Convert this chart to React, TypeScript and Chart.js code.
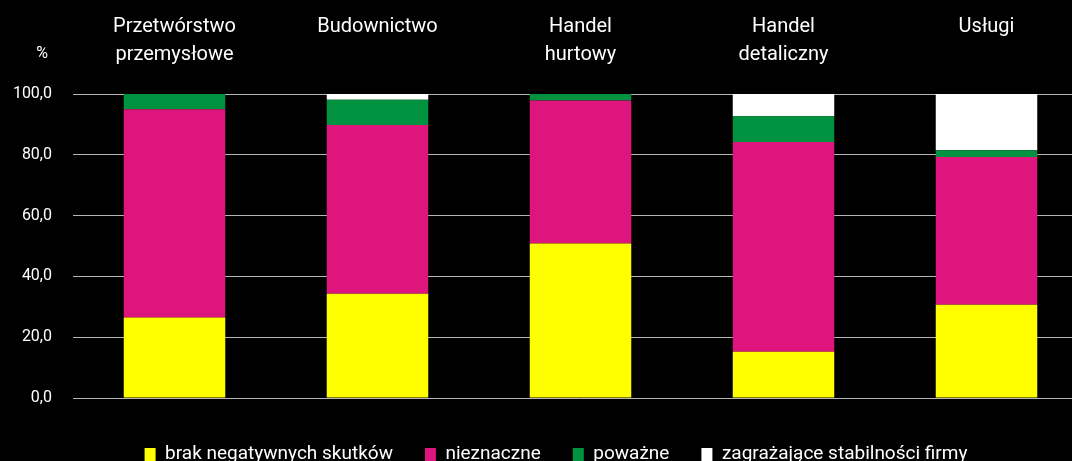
import React, { useEffect, useRef } from 'react';
import { Chart, registerables } from 'chart.js';

Chart.register(...registerables);

const categories: string[][] = [
  ['Przetwórstwo', 'przemysłowe'],
  ['Budownictwo'],
  ['Handel', 'hurtowy'],
  ['Handel', 'detaliczny'],
  ['Usługi'],
];
const seriesNames = ['brak negatywnych skutków', 'nieznaczne', 'poważne', 'zagrażające stabilności firmy'];
const brakNegatywnych = [26.5, 34.3, 50.8, 15.2, 30.7];
const nieznaczne = [68.5, 55.5, 47.1, 69.0, 48.6];
const powazne = [5.0, 8.3, 2.1, 8.5, 2.2];
const zagrazajace = [0, 1.9, 0, 7.3, 18.5];
const yTicks = [0, 20, 40, 60, 80, 100];
const yUnit = '%';

const FONT = 'Roboto';

export default function App() {
  const ref = useRef<HTMLCanvasElement>(null);
  useEffect(() => {
    if (!ref.current) return;
    const unitPlugin = {
      id: 'unitLabel',
      afterLayout(chart: any) {
        const lg = chart.legend;
        if (lg) {
          lg.left += 12;
          lg.right += 12;
        }
      },
      afterDraw(chart: any) {
        const { ctx, chartArea } = chart;
        ctx.save();
        ctx.fillStyle = '#ffffff';
        ctx.font = `16px ${FONT}`;
        ctx.textAlign = 'center';
        ctx.textBaseline = 'middle';
        ctx.fillText(yUnit, chartArea.left - 31, chartArea.top - 40);
        ctx.restore();
      },
    };
    const chart = new Chart(ref.current, {
      type: 'bar',
      data: {
        labels: categories,
        datasets: [
          { label: seriesNames[0], data: brakNegatywnych, backgroundColor: '#FFFF00' },
          { label: seriesNames[1], data: nieznaczne, backgroundColor: '#DD157D' },
          { label: seriesNames[2], data: powazne, backgroundColor: '#00923F' },
          { label: seriesNames[3], data: zagrazajace, backgroundColor: '#FFFFFF' },
        ],
      },
      options: {
        responsive: true,
        maintainAspectRatio: false,
        animation: false,
        datasets: { bar: { categoryPercentage: 1, barPercentage: 0.5 } },
        layout: { padding: { top: 5, left: 0, right: 0, bottom: 0 } },
        scales: {
          x: {
            stacked: true,
            position: 'top',
            grid: { display: false },
            border: { display: false },
            ticks: {
              color: '#ffffff',
              font: { family: FONT, size: 20, lineHeight: 1.4 },
              crossAlign: 'far',
              padding: 17,
              maxRotation: 0,
              autoSkip: false,
            },
          },
          xb: {
            type: 'category',
            position: 'bottom',
            grid: { display: false },
            border: { display: false },
            ticks: { display: false },
            afterFit(scale: any) {
              scale.height = 15;
            },
          },
          y: {
            stacked: true,
            min: 0,
            max: 100,
            afterBuildTicks(scale: any) {
              scale.ticks = yTicks.map((v) => ({ value: v }));
            },
            afterFit(scale: any) {
              scale.width = 73;
            },
            grid: { color: '#b5b5b5', lineWidth: 1, drawTicks: false },
            border: { display: false },
            ticks: {
              color: '#ffffff',
              font: { family: FONT, size: 16 },
              padding: 21,
              callback: (v: any) => Number(v).toFixed(1).replace('.', ','),
            },
          },
        },
        plugins: {
          tooltip: { enabled: false },
          legend: {
            position: 'bottom',
            labels: {
              color: '#ffffff',
              font: { family: FONT, size: 19 },
              boxWidth: 11,
              boxHeight: 13,
              padding: 32,
            },
          },
        },
      },
      plugins: [unitPlugin],
    });
    return () => chart.destroy();
  }, []);
  return (
    <div style={{ position: 'fixed', left: 0, top: 0, width: 1072, height: 461, overflow: 'hidden', background: '#000' }}>
      <div style={{ position: 'absolute', left: 0, top: -9, width: 1088, height: 483 }}>
        <canvas ref={ref} />
      </div>
    </div>
  );
}
